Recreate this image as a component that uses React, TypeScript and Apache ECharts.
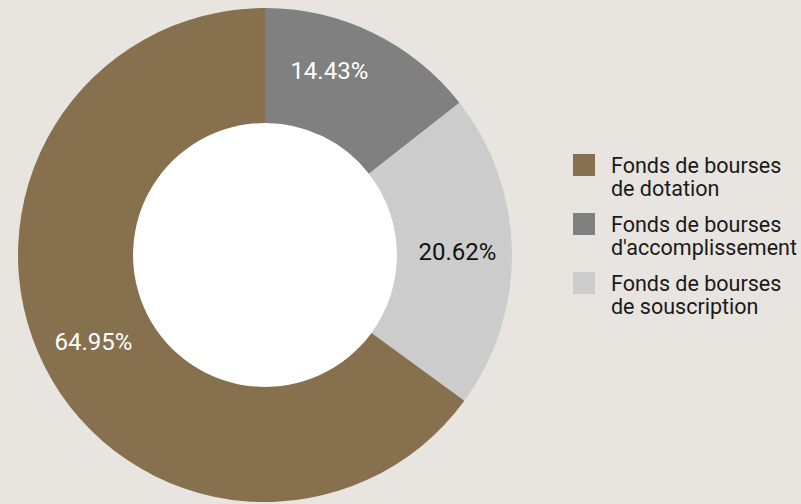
import React, { useEffect, useRef } from "react";
import * as echarts from "echarts";

const categories = [
  "Fonds de bourses\nd'accomplissement",
  "Fonds de bourses\nde souscription",
  "Fonds de bourses\nde dotation",
];
const values = [14.43, 20.62, 64.95];
const colors = ["#808080", "#cccccc", "#86704e"];
const labelColors = ["#ffffff", "#111111", "#ffffff"];
const legendOrder = [
  "Fonds de bourses\nde dotation",
  "Fonds de bourses\nd'accomplissement",
  "Fonds de bourses\nde souscription",
];

export default function App() {
  const ref = useRef<HTMLDivElement>(null);
  useEffect(() => {
    document.body.style.margin = "0";
    const chart = echarts.init(ref.current!, null, { renderer: "svg" });
    chart.setOption({
      animation: false,
      backgroundColor: "#e8e4df",
      graphic: [
        {
          type: "circle",
          shape: { cx: 265, cy: 255, r: 132 },
          style: { fill: "#ffffff" },
          silent: true,
        },
      ],
      legend: {
        orient: "vertical",
        left: 568,
        top: 149,
        data: legendOrder,
        icon: "path://M0,0H22V22H0Z M0,46L0.01,46L0.01,46.01Z",
        itemWidth: 22,
        itemHeight: 46,
        itemGap: 13,
        selectedMode: false,
        textStyle: {
          fontFamily: "Roboto",
          fontSize: 21.5,
          lineHeight: 23,
          color: "#1a1a1a",
          padding: [0, 0, 0, 11],
        },
      },
      series: [
        {
          type: "pie",
          center: [265, 255],
          radius: [132, 247],
          startAngle: 90,
          clockwise: true,
          avoidLabelOverlap: false,
          label: {
            show: true,
            position: "inside",
            formatter: "{c}%",
            fontFamily: "Roboto",
            fontSize: 24,
          },
          labelLine: { show: false },
          emphasis: { disabled: true },
          data: categories.map((name, i) => ({
            name,
            value: values[i],
            itemStyle: { color: colors[i] },
            label: {
              color: labelColors[i],
              ...(i === 0 ? { offset: [-20, -11] } : {}),
            },
          })),
        },
      ],
    });
    return () => chart.dispose();
  }, []);
  return <div ref={ref} style={{ width: 801, height: 504 }} />;
}
